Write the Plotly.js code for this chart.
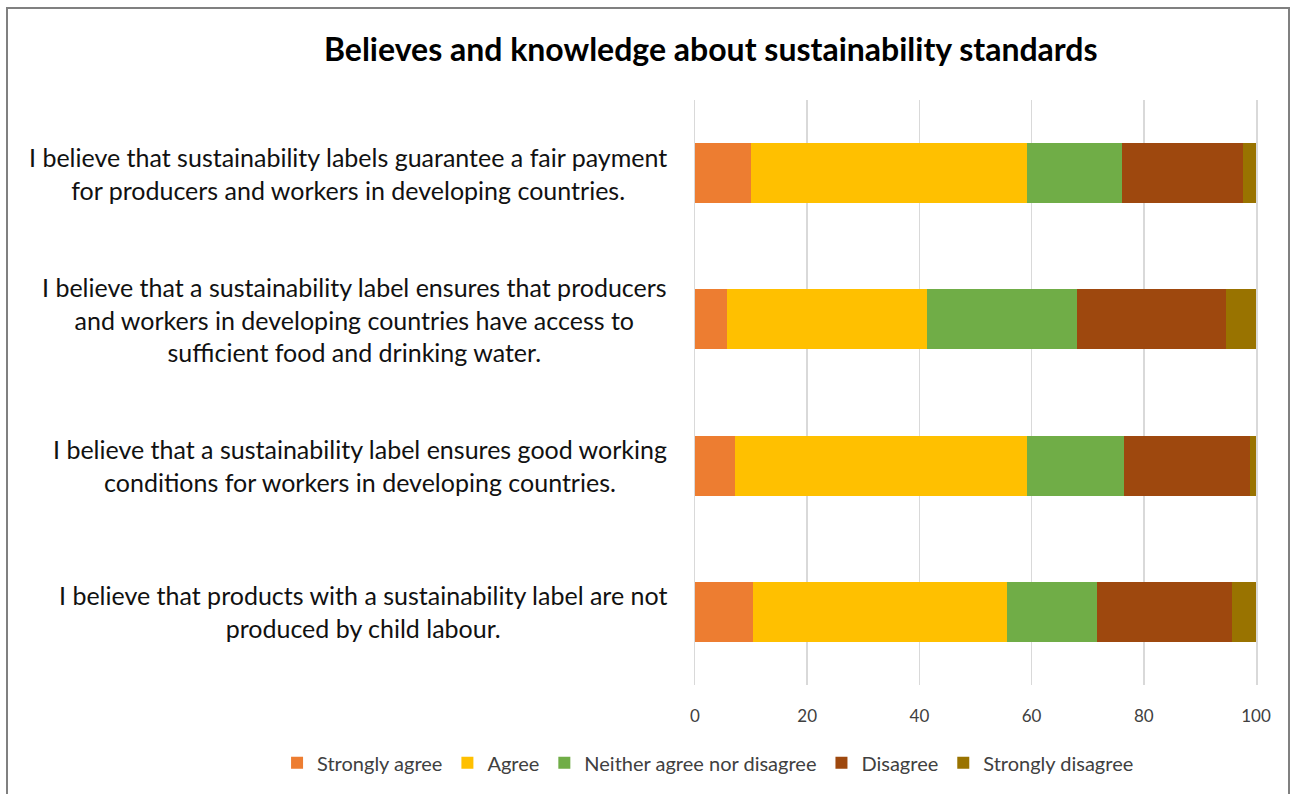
<!DOCTYPE html>
<html>
<head>
<meta charset="utf-8">
<script src="https://cdn.plot.ly/plotly-3.0.1.min.js"></script>
<style>
  html, body { margin: 0; padding: 0; background: #fff; overflow: hidden; }
  #frame { position: absolute; left: 6px; top: 7px; width: 1284px; height: 800px; border: 2px solid #808080; box-sizing: border-box; pointer-events: none; }
  #chart { width: 1290px; height: 794px; }
</style>
</head>
<body>
<div id="chart"></div>
<div id="frame"></div>
<script>
const categories = [
  "I believe that sustainability labels guarantee a fair payment<br>for producers and workers in developing countries.",
  "I believe that a sustainability label ensures that producers<br>and workers in developing countries have access to<br>sufficient food and drinking water.",
  "I believe that a sustainability label ensures good working<br>conditions for workers in developing countries.",
  "I believe that products with a sustainability label are not<br>produced by child labour."
];
const seriesNames = ["Strongly agree", "Agree", "Neither agree nor disagree", "Disagree", "Strongly disagree"];
const stronglyAgree    = [10.0, 5.7, 7.2, 10.4];
const agree            = [49.2, 35.6, 52.0, 45.2];
const neither          = [16.9, 26.8, 17.3, 16.1];
const disagree         = [21.6, 26.6, 22.5, 24.1];
const stronglyDisagree = [2.3, 5.3, 1.0, 4.2];
const colors = ["#ED7D31", "#FFC000", "#70AD47", "#9E480E", "#997300"];
const xTicks = [0, 20, 40, 60, 80, 100];

const values = [stronglyAgree, agree, neither, disagree, stronglyDisagree];
const cats = categories.map((c, i) => "c" + i);

const traces = values.map((v, i) => ({
  type: "bar",
  orientation: "h",
  name: seriesNames[i],
  x: v,
  y: cats,
  marker: { color: colors[i] },
  hoverinfo: "x+name"
}));

const font = "Lato, 'Open Sans', sans-serif";

const annotations = categories.map((c, i) => ({
  xref: "paper", yref: "y",
  x: -0.046, y: cats[i],
  xanchor: "right", yanchor: "middle",
  text: c, align: "center", showarrow: false,
  font: { family: font, size: 25, color: "#111" }
}));

const layout = {
  width: 1290, height: 794,
  margin: { l: 695, r: 34, t: 100, b: 107 },
  paper_bgcolor: "#fff", plot_bgcolor: "#fff",
  barmode: "stack",
  bargap: 0.59,
  title: {
    text: "<b>Believes and knowledge about sustainability standards</b>",
    font: { family: font, size: 32, color: "#000" },
    x: 0.551, xanchor: "center", y: 0.937, yanchor: "middle"
  },
  xaxis: {
    range: [0, 100],
    tickvals: xTicks,
    ticktext: xTicks.map(String),
    showgrid: true, gridcolor: "#d9d9d9", gridwidth: 1.5,
    zeroline: false, showline: false,
    ticks: "", ticklen: 0,
    ticklabelstandoff: 19,
    tickfont: { family: font, size: 17, color: "#404040" }
  },
  yaxis: {
    autorange: false,
    categoryorder: "array", categoryarray: cats,
    showticklabels: false, showgrid: false, zeroline: false,
    showline: true, mirror: true, linecolor: "#d9d9d9", linewidth: 1.5,
    ticks: "",
    range: [3.5, -0.5]
  },
  showlegend: true,
  legend: {
    orientation: "h", x: -0.745, xanchor: "left",
    y: -0.133, yanchor: "middle",
    font: { family: font, size: 20, color: "#404040" },
    traceorder: "normal"
  },
  annotations: annotations
};

Plotly.newPlot("chart", traces, layout, { displayModeBar: false, staticPlot: true });
</script>
</body>
</html>
